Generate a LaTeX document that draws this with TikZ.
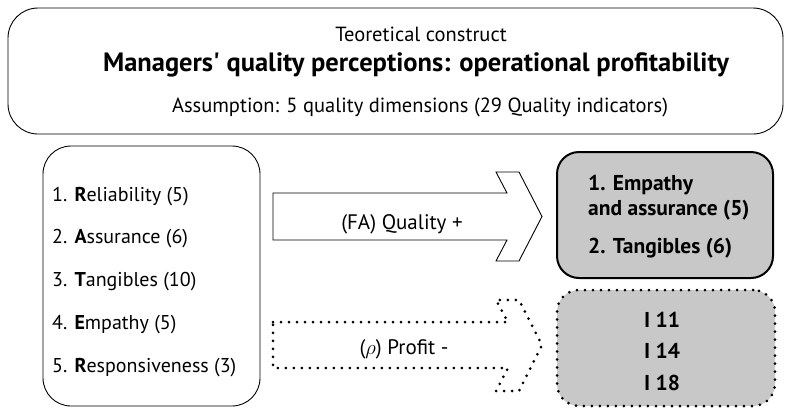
\documentclass[tikz,border=0pt]{standalone}
\usepackage{fontspec}
\setmainfont{PT Sans}
\definecolor{boxgrey}{RGB}{200,200,200}
\begin{document}
\begin{tikzpicture}[x=1pt,y=-1pt,
  frame/.style={draw=black, line width=0.9pt, rounded corners=#1, inner sep=0pt},
  dotline/.style={line width=3pt, dash pattern=on 0pt off 8pt, line cap=round},
  txt/.style={font=\fontsize{20.5}{24}\selectfont, inner sep=0pt, anchor=base},
  txtl/.style={font=\fontsize{20}{24}\selectfont, inner sep=0pt, anchor=base west},
  btxt/.style={font=\fontsize{21.5}{24}\selectfont\bfseries, inner sep=0pt, anchor=base west},
  bctxt/.style={btxt, anchor=base}]
\useasboundingbox (0,0) rectangle (785,408);

% top box
\node[frame=30pt, minimum width=775pt, minimum height=126pt] (top) at (395.5,71) {};
\node[txt] (t1) at (421,41) {Teoretical construct};
\node[txt, font=\fontsize{26.5}{30}\selectfont\bfseries] (t2) at (416,71) {Managers\textquotesingle{} quality perceptions: operational profitability};
\node[txt] (t3) at (420,112) {Assumption: 5 quality dimensions (29 Quality indicators)};

% left box
\node[frame=28pt, minimum width=217pt, minimum height=260pt] (dims) at (151.5,276) {};
\node[txtl] (d1) at (52,201) {1. \textbf{R}eliability (5)};
\node[txtl] (d2) at (52,243) {2. \textbf{A}ssurance (6)};
\node[txtl] (d3) at (52,286) {3. \textbf{T}angibles (10)};
\node[txtl] (d4) at (52,329) {4. \textbf{E}mpathy (5)};
\node[txtl] (d5) at (52,372) {5. \textbf{R}esponsiveness (3)};

% upper result box
\node[frame=22pt, line width=2pt, fill=boxgrey, minimum width=216pt, minimum height=126pt] (fa) at (665,215) {};
\node[btxt] (f1) at (588,190) {1. Empathy};
\node[btxt] (f2) at (588,215) {and assurance (5)};
\node[btxt] (f3) at (588,253) {2. Tangibles (6)};

% lower result box
\node[draw=black, dotline, rounded corners=22pt, fill=boxgrey, inner sep=0pt, minimum width=218pt, minimum height=116pt] (rho) at (666,348) {};
\node[bctxt] (r1) at (662,327) {I 11};
\node[bctxt] (r2) at (662,358) {I 14};
\node[bctxt] (r3) at (662,390) {I 18};

% upper arrow
\draw[line width=0.9pt, line join=miter] (273,193) -- (507,193) -- (496,172) -- (519,172) -- (542,216.5)
  -- (519,261) -- (496,261) -- (507,240) -- (273,240) -- cycle;
\node[txt, font=\fontsize{21}{24}\selectfont] (qa) at (402,229) {(FA) Quality +};

% lower arrow
\draw[dotline] (273,322) -- (508,322) -- (496,300) -- (519,300) -- (542,345)
  -- (519,391) -- (496,391) -- (508,368) -- (273,368) -- cycle;
\node[txt, font=\fontsize{21}{24}\selectfont] (pa) at (404,354) {($\rho$) Profit -};
\end{tikzpicture}
\end{document}
